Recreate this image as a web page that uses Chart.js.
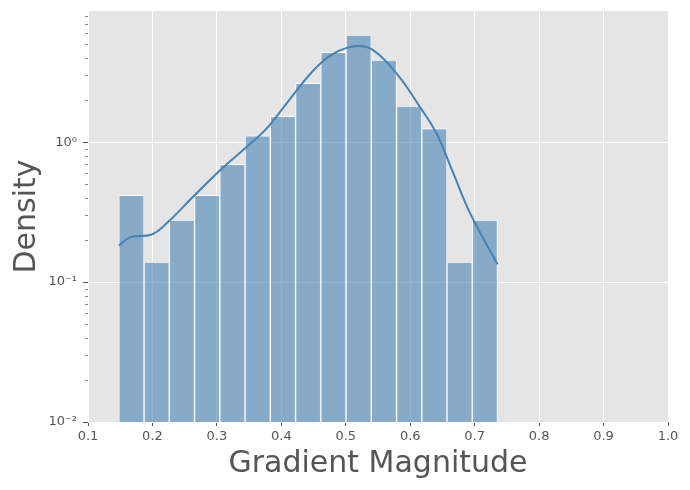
<!DOCTYPE html>
<html>
<head>
<meta charset="utf-8">
<script src="https://cdn.jsdelivr.net/npm/chart.js@4.4.1/dist/chart.umd.min.js"></script>
<style>
  html, body { margin: 0; padding: 0; background: #fff; }
  #wrap { width: 690px; height: 490px; }
</style>
</head>
<body>
<div id="wrap"><canvas id="chart" width="690" height="490"></canvas></div>
<script>
// histogram bins (edges) and densities
const binEdges = [0.1478, 0.1870, 0.2262, 0.2653, 0.3045, 0.3437, 0.3829, 0.4221,
                  0.4612, 0.5004, 0.5396, 0.5788, 0.6180, 0.6571, 0.6963, 0.7355];
const densities = [0.417, 0.139, 0.278, 0.417, 0.695, 1.11, 1.53, 2.64,
                   4.40, 5.84, 3.86, 1.81, 1.25, 0.139, 0.278];

// kde curve
const kdeX = [0.1478, 0.165, 0.199, 0.222, 0.263, 0.305, 0.346, 0.377, 0.408, 0.450,
              0.481, 0.517, 0.543, 0.579, 0.615, 0.641, 0.667, 0.693, 0.7355];
const kdeY = [0.182, 0.209, 0.219, 0.263, 0.407, 0.631, 0.926, 1.25, 1.89, 3.27,
              4.30, 4.87, 4.54, 3.09, 1.79, 1.15, 0.598, 0.310, 0.134];

// ticks
const xTicks = [0.1, 0.2, 0.3, 0.4, 0.5, 0.6, 0.7, 0.8, 0.9, 1.0];
const yMajorTicks = [0.01, 0.1, 1];
const yTickLabels = ['10⁻²', '10⁻¹', '10⁰'];
const yMin = 0.01;
const yMax = 8.67;

const TEXT = '#555555';
const FONT = "'DejaVu Sans', sans-serif";

const isMajor = v => yMajorTicks.some(m => Math.abs(v - m) < m * 1e-6);

// every decade tick plus 2..9 minors
const yAllTicks = [];
yMajorTicks.forEach(m => {
  for (let k = 1; k <= 9; k++) {
    const v = +(m * k).toPrecision(6);
    if (v <= yMax) yAllTicks.push(v);
  }
});

const barData = densities.map((d, i) => ({ x: (binEdges[i] + binEdges[i + 1]) / 2, y: d }));
const lineData = kdeX.map((x, i) => ({ x: x, y: kdeY[i] }));

const plotBg = {
  id: 'plotBg',
  beforeDraw(chart) {
    const { ctx, chartArea: a } = chart;
    ctx.save();
    ctx.fillStyle = '#E5E5E5';
    ctx.fillRect(a.left, a.top, a.right - a.left, a.bottom - a.top);
    ctx.restore();
  }
};

// major / minor tick marks on the log axis
const yTickMarks = {
  id: 'yTickMarks',
  afterDraw(chart) {
    const y = chart.scales.y;
    const ctx = chart.ctx;
    const left = chart.chartArea.left;
    ctx.save();
    ctx.strokeStyle = TEXT;
    y.ticks.forEach(t => {
      const py = Math.round(y.getPixelForValue(t.value)) + 0.5;
      const major = isMajor(t.value);
      const len = major ? 5 : 3;
      ctx.lineWidth = major ? 1 : 0.7;
      ctx.beginPath();
      ctx.moveTo(left - len, py);
      ctx.lineTo(left, py);
      ctx.stroke();
    });
    ctx.restore();
  }
};

new Chart(document.getElementById('chart'), {
  type: 'bar',
  data: {
    datasets: [
      {
        type: 'line',
        data: lineData,
        borderColor: '#4682B4',
        borderWidth: 2,
        pointRadius: 0,
        fill: false,
        tension: 0.4,
        order: 0
      },
      {
        type: 'bar',
        data: barData,
        backgroundColor: 'rgba(70, 130, 180, 0.6)',
        borderColor: 'rgba(255, 255, 255, 0.75)',
        borderWidth: 1,
        borderSkipped: 'bottom',
        barPercentage: 1,
        categoryPercentage: 1,
        grouped: false,
        order: 1
      }
    ]
  },
  options: {
    responsive: false,
    animation: false,
    layout: { padding: { left: 0, top: 11, right: 22, bottom: 0 } },
    plugins: {
      legend: { display: false },
      tooltip: { enabled: false }
    },
    scales: {
      x: {
        type: 'linear',
        min: 0.1,
        max: 1.0,
        offset: false,
        afterBuildTicks: scale => { scale.ticks = xTicks.map(v => ({ value: v })); },
        afterFit: scale => {
          scale.height = 68;
          scale.paddingLeft = 0;
          scale.paddingRight = 0;
        },
        ticks: {
          autoSkip: false,
          maxRotation: 0,
          color: TEXT,
          padding: 3,
          font: { family: FONT, size: 13 },
          callback: v => v.toFixed(1)
        },
        grid: {
          offset: false,
          color: '#FFFFFF',
          lineWidth: 1,
          drawTicks: true,
          tickLength: 4,
          tickColor: TEXT
        },
        border: { display: false },
        title: {
          display: true,
          text: 'Gradient Magnitude',
          color: TEXT,
          font: { family: FONT, size: 30 },
          padding: { top: 0, bottom: 8 }
        }
      },
      y: {
        type: 'logarithmic',
        min: yMin,
        max: yMax,
        afterBuildTicks: scale => { scale.ticks = yAllTicks.map(v => ({ value: v })); },
        afterFit: scale => {
          scale.width = 88;
          scale.paddingTop = 0;
          scale.paddingBottom = 0;
        },
        ticks: {
          autoSkip: false,
          color: TEXT,
          padding: 11,
          font: { family: FONT, size: 13 },
          callback: v => {
            const i = yMajorTicks.findIndex(m => Math.abs(v - m) < m * 1e-6);
            return i >= 0 ? yTickLabels[i] : '';
          }
        },
        grid: {
          color: ctx => (ctx.tick && isMajor(ctx.tick.value)) ? '#FFFFFF' : 'rgba(0,0,0,0)',
          lineWidth: 1,
          drawTicks: false
        },
        border: { display: false },
        title: {
          display: true,
          text: 'Density',
          color: TEXT,
          font: { family: FONT, size: 30 },
          padding: { top: 9, bottom: 0 }
        }
      }
    }
  },
  plugins: [plotBg, yTickMarks]
});
</script>
</body>
</html>
